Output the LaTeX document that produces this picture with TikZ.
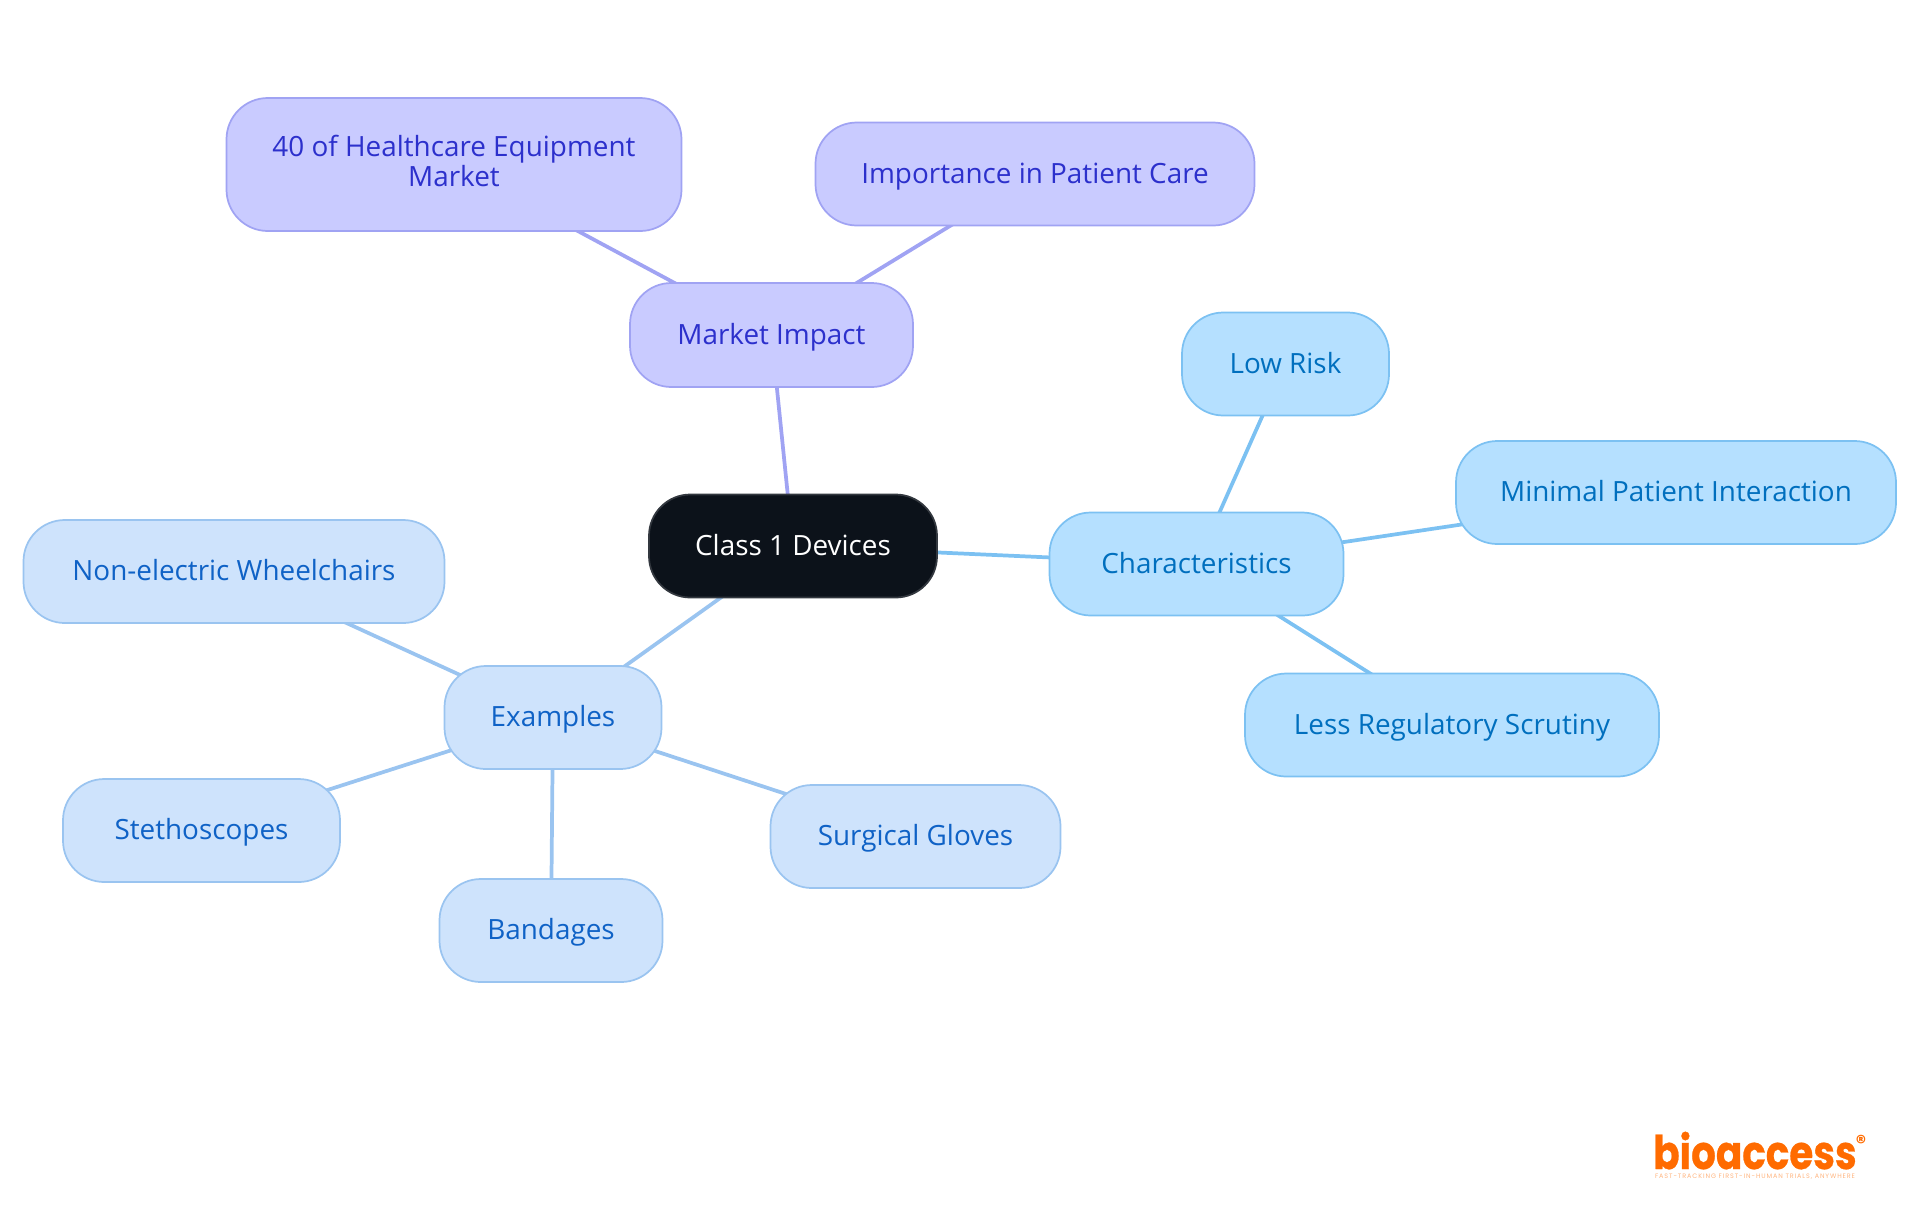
\documentclass[tikz,border=0pt]{standalone}
\usepackage{fontspec}
\usepackage{graphicx}
\setmainfont{Open Sans}
\newfontfamily\logofont{Poppins}
\newfontfamily\tagfont[LetterSpace=14]{Poppins}
\usetikzlibrary{backgrounds}
\definecolor{rootfill}{HTML}{0C121A}
\definecolor{rootline}{HTML}{33383F}
\definecolor{mfill}{HTML}{C9CBFF}
\definecolor{mline}{HTML}{A0A3F3}
\definecolor{mtext}{HTML}{2C30CC}
\definecolor{cfill}{HTML}{B5E0FF}
\definecolor{cline}{HTML}{7CC1F2}
\definecolor{ctext}{HTML}{006FBE}
\definecolor{efill}{HTML}{CEE3FC}
\definecolor{eline}{HTML}{9AC4F0}
\definecolor{etext}{HTML}{0F62C6}
\definecolor{logoorange}{HTML}{FF6B00}
\tikzset{
  x=0.75pt,y=-0.75pt,
  pill/.style n args={2}{draw,line width=1.3pt,rounded corners=31pt,inner sep=0pt,
     minimum width=#1*0.75pt,minimum height=#2*0.75pt,align=center,
     font=\fontsize{20.9}{22.6}\selectfont,
     execute at begin node={\rule{0pt}{19.2pt}},
     execute at end node={\rule[-5pt]{0pt}{5pt}}},
  rootbox/.style={fill=rootfill,draw=rootline,text=white},
  mbox/.style={fill=mfill,draw=mline,text=mtext},
  cbox/.style={fill=cfill,draw=cline,text=ctext},
  ebox/.style={fill=efill,draw=eline,text=etext},
  link/.style={line width=2.8pt},
}
\begin{document}
\begin{tikzpicture}
\useasboundingbox (0,0) rectangle (1920,1215);
\node[pill={288}{103},rootbox] (root) at (793,546) {Class 1 Devices};
\node[pill={283}{104},mbox] (market) at (771.5,335) {Market Impact};
\node[pill={455}{133},mbox] (share) at (454,164.5) {40 of Healthcare Equipment\\Market};
\node[pill={439}{103},mbox] (care) at (1035,174) {Importance in Patient Care};
\node[pill={294}{103},cbox] (chars) at (1196.5,564) {Characteristics};
\node[pill={207}{103},cbox] (risk) at (1285.5,364) {Low Risk};
\node[pill={440}{103},cbox] (minimal) at (1676,492.5) {Minimal Patient Interaction};
\node[pill={414}{103},cbox] (less) at (1452,725) {Less Regulatory Scrutiny};
\node[pill={217}{103},ebox] (examples) at (553,717.5) {Examples};
\node[pill={421}{103},ebox] (wheel) at (234,571.5) {Non-electric Wheelchairs};
\node[pill={277}{103},ebox] (steth) at (201.5,830.5) {Stethoscopes};
\node[pill={223}{103},ebox] (band) at (551,930.5) {Bandages};
\node[pill={290}{103},ebox] (gloves) at (915.5,836.5) {Surgical Gloves};
\begin{pgfonlayer}{background}
\draw[link,mline] (root.center) -- (market.center);
\draw[link,mline] (market.center) -- (share.center);
\draw[link,mline] (market.center) -- (care.center);
\draw[link,cline] (root.center) -- (chars.center);
\draw[link,cline] (chars.center) -- (risk.center);
\draw[link,cline] (chars.center) -- (minimal.center);
\draw[link,cline] (chars.center) -- (less.center);
\draw[link,eline] (root.center) -- (examples.center);
\draw[link,eline] (examples.center) -- (wheel.center);
\draw[link,eline] (examples.center) -- (steth.center);
\draw[link,eline] (examples.center) -- (band.center);
\draw[link,eline] (examples.center) -- (gloves.center);
\end{pgfonlayer}
\node[anchor=base west,inner sep=0pt,text=logoorange] (logo) at (1653,1169)
  {\resizebox{152.5pt}{28pt}{\logofont\bfseries\addfontfeature{FakeBold=0.6}bioaccess}};
\node[anchor=center,inner sep=0pt,text=logoorange] (reg) at (1861,1142)
  {\logofont\bfseries\fontsize{15}{15}\selectfont ®};
\node[anchor=center,inner sep=0pt,text=logoorange!50] (tag) at (1755,1177)
  {\resizebox{150pt}{!}{\tagfont FAST-TRACKING FIRST-IN-HUMAN TRIALS, ANYWHERE}};
\end{tikzpicture}
\end{document}
